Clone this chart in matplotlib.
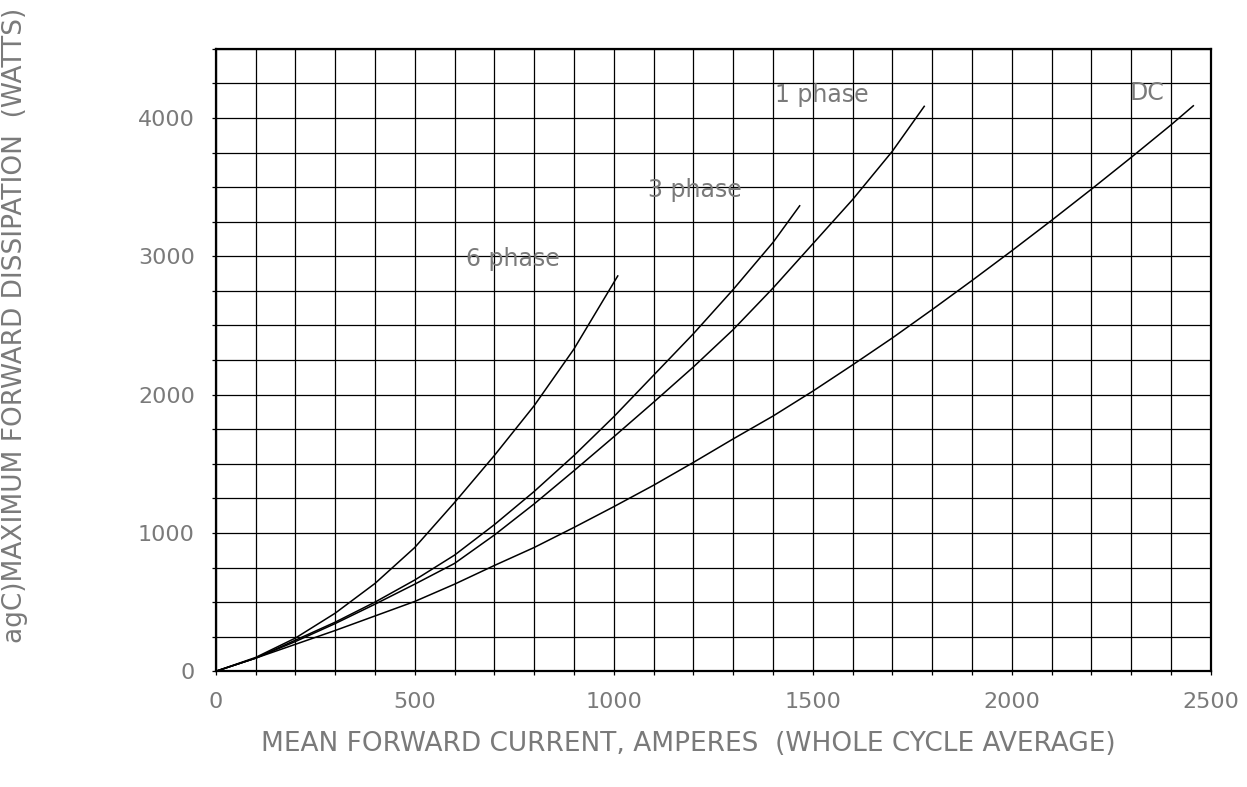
import numpy as np
import matplotlib.pyplot as plt
from matplotlib.ticker import MultipleLocator

# curves (A, W)
dc_x = [0, 100, 200, 300, 400, 500, 600, 700, 800, 900, 1000, 1100, 1200, 1300,
        1400, 1500, 1600, 1700, 1800, 1900, 2000, 2100, 2200, 2300, 2400, 2456]
dc_y = [0, 95, 195, 295, 400, 505, 630, 765, 895, 1040, 1190, 1345, 1510, 1680,
        1845, 2025, 2215, 2410, 2615, 2825, 3040, 3260, 3485, 3715, 3950, 4088]

ph1_x = [0, 100, 200, 300, 400, 500, 600, 700, 800, 900, 1000, 1100, 1200, 1300,
         1400, 1500, 1600, 1700, 1780]
ph1_y = [0, 95, 215, 345, 485, 630, 780, 985, 1210, 1450, 1695, 1945, 2200, 2470,
         2770, 3090, 3410, 3760, 4084]

ph3_x = [0, 100, 200, 300, 400, 500, 600, 700, 800, 900, 1000, 1100, 1200, 1300,
         1400, 1467]
ph3_y = [0, 95, 225, 355, 500, 660, 840, 1060, 1300, 1560, 1840, 2140, 2440, 2760,
         3100, 3365]

ph6_x = [0, 100, 200, 300, 400, 500, 600, 700, 800, 900, 1000, 1010]
ph6_y = [0, 100, 240, 420, 635, 895, 1220, 1560, 1920, 2330, 2810, 2858]

labels = ["6 phase", "3 phase", "1 phase", "DC"]
label_x = [630, 1086, 1404, 2295]
label_y = [2980, 3478, 4166, 4179]

x_ticks = [0, 500, 1000, 1500, 2000, 2500]
y_ticks = [0, 1000, 2000, 3000, 4000]

grey = "#7a7a7a"

fig = plt.figure(figsize=(12.47, 7.87), dpi=100)
ax = fig.add_axes([0.173, 0.147, 0.798, 0.791])

for xs, ys in [(dc_x, dc_y), (ph1_x, ph1_y), (ph3_x, ph3_y), (ph6_x, ph6_y)]:
    ax.plot(xs, ys, color="black", lw=1.1)

for txt, tx, ty in zip(labels, label_x, label_y):
    ax.text(tx, ty, txt, fontsize=17, color=grey, ha="left", va="center")

ax.set_xlim(0, 2500)
ax.set_ylim(0, 4500)
ax.set_xticks(x_ticks)
ax.set_yticks(y_ticks)
ax.xaxis.set_minor_locator(MultipleLocator(100))
ax.yaxis.set_minor_locator(MultipleLocator(250))
ax.grid(True, which="both", color="black", lw=0.9)
ax.set_axisbelow(False)
ax.tick_params(which="both", direction="out", length=3, width=0.9, color="black",
               labelcolor=grey, labelsize=16, pad=12)
for s in ax.spines.values():
    s.set_linewidth(1.6)

fig.text(0.552, 0.055, "MEAN FORWARD CURRENT, AMPERES  (WHOLE CYCLE AVERAGE)",
         fontsize=19, color=grey, ha="center", va="center")
fig.text(0.012, 0.99, "agC)MAXIMUM FORWARD DISSIPATION  (WATTS)",
         fontsize=19, color=grey, ha="center", va="top", rotation=90)

fig.savefig("out.png", dpi=100)
